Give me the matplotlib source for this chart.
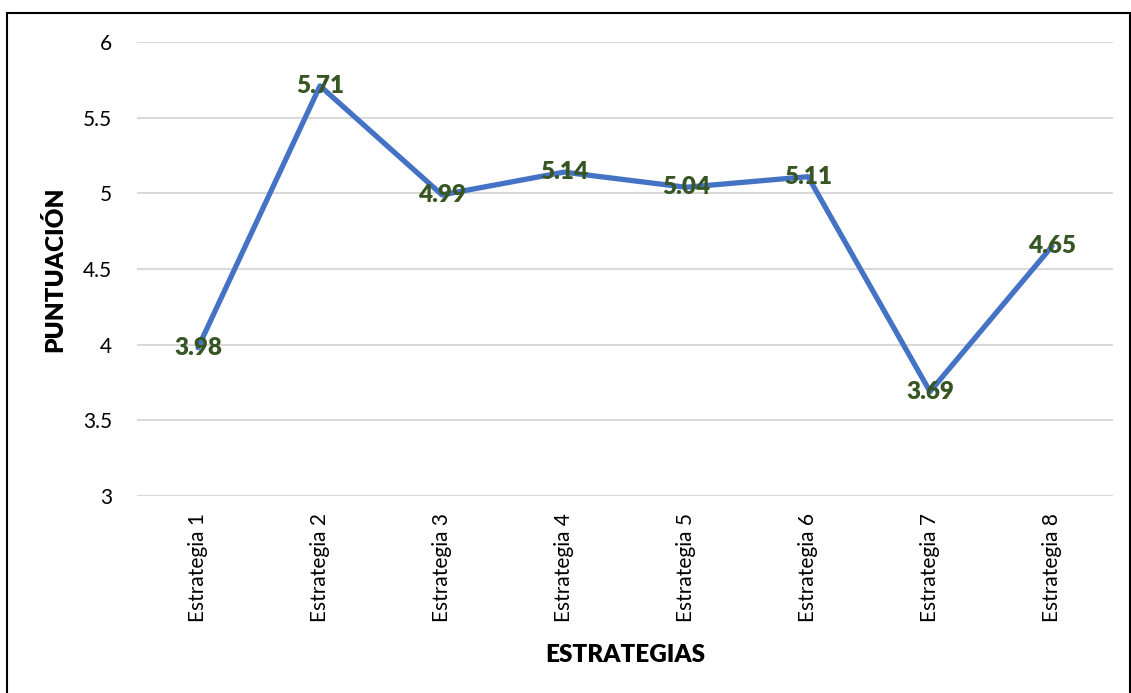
import matplotlib.pyplot as plt
from matplotlib.patches import Rectangle

plt.rcParams['font.family'] = ['Lato', 'DejaVu Sans']

categorias = ['Estrategia 1', 'Estrategia 2', 'Estrategia 3', 'Estrategia 4',
              'Estrategia 5', 'Estrategia 6', 'Estrategia 7', 'Estrategia 8']
puntuacion = [3.98, 5.71, 4.99, 5.14, 5.04, 5.11, 3.69, 4.65]
yticks = [3, 3.5, 4, 4.5, 5, 5.5, 6]
ytick_labels = ['3', '3.5', '4', '4.5', '5', '5.5', '6']

fig = plt.figure(figsize=(11.31, 6.93), dpi=100)
ax = fig.add_axes([137/1131, 1-496/693, (1113-137)/1131, (496-42)/693])

x = list(range(len(categorias)))
ax.plot(x, puntuacion, color='#4472C4', lw=3.8, solid_capstyle='round',
        solid_joinstyle='round', zorder=3)
for xi, v in zip(x, puntuacion):
    ax.text(xi, v, f'{v:.2f}', ha='center', va='center', fontsize=17.5,
            fontweight='heavy', color='#375623', zorder=4)

ax.set_xlim(-0.5, len(categorias) - 0.5)
ax.set_ylim(3, 6)
ax.set_yticks(yticks)
ax.set_yticklabels(ytick_labels)
ax.set_xticks(x)
ax.set_xticklabels(categorias, rotation=90)
ax.grid(axis='y', color='#D9D9D9', lw=1.5)
ax.set_axisbelow(True)
for s in ax.spines.values():
    s.set_visible(False)
ax.tick_params(axis='y', length=0, pad=18, labelsize=15)
ax.tick_params(axis='x', length=0, pad=12, labelsize=15)

ax.set_xlabel('ESTRATEGIAS', fontsize=17.5, fontweight='heavy', labelpad=16)
ax.set_ylabel('PUNTUACIÓN', fontsize=17.5, fontweight='heavy', labelpad=12)

fig.patches.append(Rectangle((7/1131, -0.05), (1130-7)/1131, 1.05 - 13/693,
                             transform=fig.transFigure, fill=False,
                             edgecolor='black', lw=1.5))

fig.savefig('out.png', dpi=100)
